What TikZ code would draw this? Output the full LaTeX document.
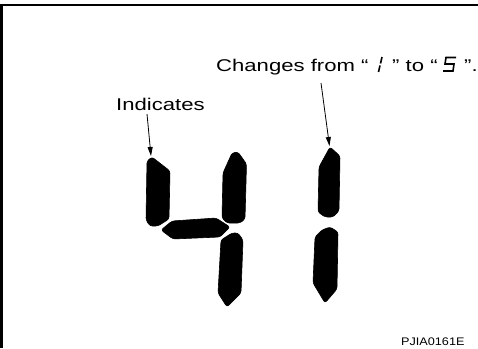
\documentclass[tikz,border=0pt]{standalone}
\usepackage{fontspec}
\setmainfont{Liberation Sans}
\usetikzlibrary{arrows.meta}
\tikzset{
  seg/.style={fill=black, draw=black, line width=0.6pt, rounded corners=2.5pt},
  lbl/.style={inner sep=0pt, anchor=base west, font=\fontsize{17}{19}\selectfont},
  code/.style={inner sep=0pt, anchor=base west, font=\fontsize{11}{13}\selectfont},
  pointer/.style={line width=0.8pt, -{Triangle[length=9pt,width=5pt]}},
  glyph/.style={line width=1.6pt, line cap=butt},
  frame/.style={line width=2.6pt}
}
\newcommand{\wide}[1]{\scalebox{1.3}[1]{#1}}
\begin{document}
\begin{tikzpicture}[x=1pt,y=-1pt]
\useasboundingbox (0,0) rectangle (478,348);
% frame
\draw[frame] (0,5) -- (478,5);
\draw[frame] (1.3,4) -- (1.3,348);
% digit 4
\path[seg] (147,161) -- (152,157) -- (170,171) -- (169,219) -- (158,226) -- (150,226) -- (146,220) -- cycle;
\path[seg] (232,153) -- (238,152) -- (246.5,164) -- (245,219) -- (240,223) -- (227,223) -- (222,218) -- (223,173) -- cycle;
\path[seg] (161,230) -- (172,221) -- (216,218) -- (230,227) -- (220,237) -- (173,239) -- cycle;
\path[seg] (221,240) -- (232,233) -- (238,233) -- (243,240) -- (241,293) -- (227,307) -- (218,293) -- cycle;
% digit 1
\path[seg] (330,147) -- (340,156) -- (339,211) -- (333,217) -- (325,217) -- (318,212) -- (319,167) -- cycle;
\path[seg] (322,230) -- (330,227) -- (338,232) -- (337,289) -- (325,303) -- (313,283) -- (315,237) -- cycle;
% labels
\node[lbl] (ind) at (116,110) {\wide{Indicates}};
\node[lbl] (chA) at (216,71) {\wide{Changes from “}};
\draw[glyph] (382,57) -- (380.5,63.5);
\draw[glyph] (380,65.5) -- (378.5,72);
\node[lbl] (chB) at (392,71) {\wide{” to “}};
\draw[glyph] (456,57.5) -- (446,57.5) -- (445,64) -- (454,64) -- (453,71) -- (443,71);
\node[lbl] (chC) at (464,71) {\wide{”.}};
\node[code] (ref) at (401,345) {\scalebox{1.15}[1]{PJIA0161E}};
% pointers
\coordinate (tipA) at (151,156);
\coordinate (tipB) at (329.5,146);
\draw[pointer] (147,114) -- (tipA);
\draw[pointer] (321,83) -- (tipB);
\end{tikzpicture}
\end{document}
